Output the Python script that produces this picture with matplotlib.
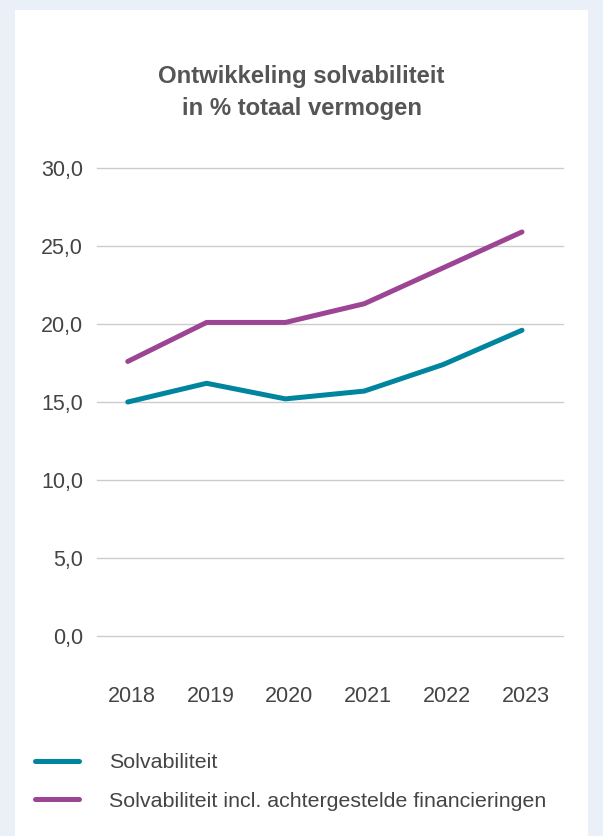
import matplotlib
matplotlib.use("Agg")
import matplotlib.pyplot as plt
import matplotlib.transforms as mtransforms
from matplotlib.patches import Rectangle

plt.rcParams['font.family'] = ['Liberation Sans', 'DejaVu Sans']

years = ['2018', '2019', '2020', '2021', '2022', '2023']
solv = [15.0, 16.2, 15.2, 15.7, 17.4, 19.6]
solv_incl = [17.6, 20.1, 20.1, 21.3, 23.6, 25.9]
labels = ['Solvabiliteit', 'Solvabiliteit incl. achtergestelde financieringen']
yticks = [0, 5, 10, 15, 20, 25, 30]

teal = '#00859f'
purple = '#9c4594'
text_col = '#444444'

W, H = 603, 836
fig = plt.figure(figsize=(W / 100, H / 100), dpi=100, facecolor='#eaf0f8')

# white card behind everything
fig.patches.append(Rectangle((15 / W, 0), (588 - 15) / W, (836 - 10) / H,
                             transform=fig.transFigure, facecolor='white',
                             edgecolor='none', zorder=-5))

ax = fig.add_axes([97 / W, (H - 636) / H, (563 - 97) / W, (636 - 168) / H])
ax.set_facecolor('none')
ax.set_zorder(2)

x = list(range(len(years)))
ax.plot(x, solv, color=teal, lw=3.6, solid_capstyle='round', label=labels[0], zorder=3)
ax.plot(x, solv_incl, color=purple, lw=3.6, solid_capstyle='round', label=labels[1], zorder=3)

ax.set_ylim(0, 30)
ax.set_xlim(-0.39, 5.52)
ax.set_yticks(yticks)
ax.set_yticklabels([f'{v:.1f}'.replace('.', ',') for v in yticks])
ax.set_xticks(x)
ax.set_xticklabels(years)
ax.grid(axis='y', color='#cccccc', lw=1)
for gl in ax.get_ygridlines():
    gl.set_clip_on(False)
ax.set_axisbelow(True)
for s in ax.spines.values():
    s.set_visible(False)
ax.tick_params(axis='y', length=0, pad=10, labelsize=15.5, labelcolor=text_col)
ax.tick_params(axis='x', length=0, pad=36, labelsize=15.5, labelcolor=text_col)
shift = mtransforms.ScaledTranslation(4 / 100, 0, fig.dpi_scale_trans)
for lbl in ax.get_xticklabels():
    lbl.set_transform(lbl.get_transform() + shift)

fig.text(0.5, (H - 93) / H, 'Ontwikkeling solvabiliteit\nin % totaal vermogen',
         ha='center', va='center', fontsize=17.2, fontweight='bold',
         color='#555555', linespacing=1.5)

leg = fig.legend(loc='upper left', bbox_to_anchor=(16 / W, (H - 734) / H),
                 frameon=False, fontsize=15.4, handlelength=2.05, handletextpad=1.4,
                 labelspacing=0.92, labelcolor=text_col)
for ln in leg.get_lines():
    ln.set_solid_capstyle('round')

fig.savefig('out.png', dpi=100, facecolor=fig.get_facecolor())
